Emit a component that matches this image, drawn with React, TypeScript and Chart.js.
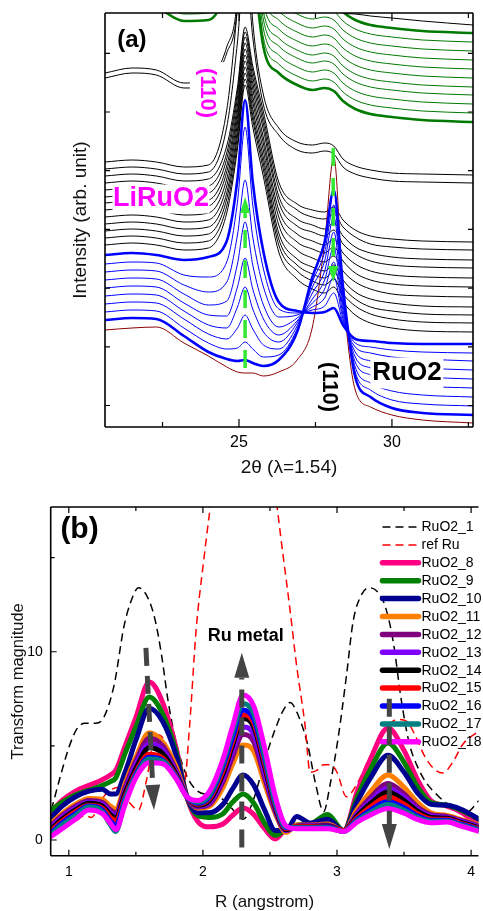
import React, { useEffect, useRef } from "react";
import { Chart, registerables } from "chart.js";

Chart.register(...registerables);

const FONT = "'Liberation Sans', Arial, Helvetica, sans-serif";

// ================= Panel (a): XRD patterns =================
const twoTheta = [20.62, 21.5, 22.3, 23.2, 24.0, 24.6, 24.95, 25.2, 25.45, 25.8, 26.3, 26.9, 27.4, 27.8, 28.1, 28.4, 28.8, 29.3, 30.0, 31.0, 32.65];

const brownCurve = [97, 99, 100, 84, 71, 60, 55, 54, 54, 51, 55, 67, 100, 185, 270, 135, 37, 20, 12, 7, 4];

const blue1 = [107, 109, 108, 91, 75, 68, 66, 67, 64, 61, 67, 95, 150, 185, 237, 140, 50, 30, 19, 14, 12];
const blue2 = [115, 117, 116, 99, 84, 78, 79, 85, 78, 70, 72, 98, 145, 175, 222, 133, 55, 37, 27, 23, 21];
const blue3 = [123, 125, 124, 108, 93, 88, 99, 112, 98, 82, 78, 101, 140, 166, 210, 127, 60, 44, 36, 32, 30];
const blue4 = [131, 133, 132, 116, 102, 99, 120, 140, 118, 95, 85, 104, 134, 156, 195, 122, 65, 52, 45, 41, 39];
const blue5 = [139, 141, 140, 124, 112, 111, 140, 169, 138, 108, 92, 106, 128, 147, 180, 117, 70, 59, 53, 50, 48];
const blue6 = [147, 149, 148, 133, 122, 126, 163, 205, 162, 122, 100, 109, 124, 138, 165, 112, 75, 66, 62, 59, 57];
const blue7 = [155, 157, 156, 142, 135, 145, 192, 247, 190, 140, 110, 112, 120, 129, 150, 108, 80, 74, 70, 68, 66];
const blue8 = [163, 165, 164, 152, 150, 165, 225, 300, 222, 158, 118, 114, 117, 121, 134, 105, 84, 80, 77, 75, 74];
const blue9 = [172, 174, 172, 167, 170, 186, 248, 327, 245, 175, 125, 116, 114, 115, 119, 102, 88, 86, 84, 83, 83];

const black1 = [182, 184, 182, 177, 179, 214, 278, 342, 300, 250, 175, 148, 138, 134, 140, 125, 112, 104, 99, 96, 95];
const black2 = [189, 191, 189, 184, 186, 221, 284, 348, 307, 257, 182, 156, 146, 142, 148, 133, 121, 113, 108, 105, 104];
const black3 = [196, 198, 196, 191, 193, 228, 291, 354, 312, 263, 188, 162, 153, 149, 155, 140, 128, 120, 116, 113, 112];
const black4 = [203, 205, 203, 198, 200, 234, 297, 360, 318, 269, 194, 168, 160, 156, 162, 147, 135, 128, 124, 121, 120];
const black5 = [210, 212, 210, 205, 207, 241, 304, 366, 325, 276, 202, 177, 169, 165, 171, 156, 145, 138, 133, 131, 130];
const black6 = [217, 219, 217, 212, 214, 248, 310, 372, 331, 283, 210, 185, 178, 174, 180, 166, 154, 147, 143, 141, 140];
const black7 = [224, 226, 224, 219, 221, 255, 316, 378, 338, 289, 217, 193, 186, 182, 188, 174, 163, 156, 152, 150, 149];
const black8 = [230, 232, 230, 225, 227, 261, 322, 384, 344, 297, 225, 201, 195, 191, 197, 183, 173, 166, 162, 160, 159];
const black9 = [237, 239, 237, 232, 234, 268, 329, 390, 350, 303, 231, 208, 202, 198, 204, 191, 180, 174, 170, 168, 167];
const black10 = [244, 246, 244, 239, 241, 274, 335, 395, 356, 309, 239, 217, 210, 208, 213, 200, 190, 183, 180, 178, 177];
const black11 = [251, 253, 251, 246, 248, 281, 340, 400, 361, 315, 245, 223, 217, 215, 220, 207, 197, 191, 188, 186, 185];
const black12 = [258, 260, 258, 253, 255, 300, 385, 470, 390, 322, 292, 277, 274, 276, 273, 260, 253, 249, 246, 245, 244];
const black13 = [265, 267, 265, 260, 262, 317, 420, 520, 405, 332, 299, 285, 282, 284, 281, 268, 261, 257, 254, 253, 252];

const upper1 = [349, 354, 352, 339, 342, 374, 420, 560, 480, 440, 425, 420, 425, 425, 420, 414, 413, 411, 409, 406, 402];
const upper2 = [354, 359, 357, 344, 347, 380, 430, 580, 495, 455, 440, 432, 433, 433, 428, 423, 422, 421, 420, 418, 416];

const green1 = [430, 428, 420, 406, 407, 440, 500, 600, 480, 380, 354, 342, 337, 339, 336, 326, 318, 313, 310, 307, 305];
const green2 = [437, 435, 427, 413, 414, 447, 507, 607, 489, 389, 363, 351, 346, 348, 345, 335, 327, 322, 319, 316, 314];
const green3 = [444, 442, 434, 420, 421, 454, 514, 614, 498, 398, 372, 360, 355, 357, 354, 344, 336, 331, 328, 325, 323];
const green4 = [451, 449, 441, 427, 428, 461, 521, 621, 507, 407, 381, 369, 364, 366, 363, 353, 345, 340, 337, 334, 332];
const green5 = [458, 456, 448, 434, 435, 468, 528, 628, 515, 415, 389, 377, 372, 374, 371, 361, 353, 348, 345, 342, 340];
const green6 = [465, 463, 455, 441, 442, 475, 535, 635, 524, 424, 398, 386, 381, 383, 380, 370, 362, 357, 354, 351, 349];
const green7 = [472, 470, 462, 448, 449, 482, 542, 642, 533, 433, 407, 395, 390, 392, 389, 379, 371, 366, 363, 360, 358];
const green8 = [479, 477, 469, 455, 456, 489, 549, 649, 542, 442, 416, 404, 399, 401, 398, 388, 380, 375, 372, 369, 367];
const green9 = [486, 484, 476, 462, 463, 496, 556, 656, 551, 451, 425, 413, 408, 410, 407, 397, 389, 384, 381, 378, 376];
const green10 = [493, 491, 483, 469, 470, 503, 563, 663, 560, 460, 434, 422, 417, 419, 416, 406, 398, 393, 390, 387, 385];
const green11 = [500, 498, 490, 476, 477, 510, 570, 670, 569, 469, 443, 431, 426, 428, 425, 415, 407, 402, 399, 396, 394];

const blueCurves = [blue1, blue2, blue3, blue4, blue5, blue6, blue7, blue8, blue9];
const blackCurves = [black1, black2, black3, black4, black5, black6, black7, black8, black9, black10, black11, black12, black13];
const upperCurves = [upper1, upper2];
const greenCurves = [green1, green2, green3, green4, green5, green6, green7, green8, green9, green10, green11];

const xTicksA = [22.5, 25, 27.5, 30, 32.5];
const xLabelsA = [25, 30];
const yTicksA = [21.5, 80.2, 138.9, 197.6, 256.3, 315, 373.7];

// ================= Panel (b): Fourier transform magnitude =================
const rGrid = [0.87, 0.95, 1.05, 1.15, 1.25, 1.31, 1.35, 1.42, 1.5, 1.6, 1.7, 1.8, 1.88, 1.96, 2.05, 2.15, 2.22, 2.3, 2.38, 2.46, 2.54, 2.62, 2.7, 2.8, 2.93, 3.05, 3.15, 3.25, 3.38, 3.5, 3.6, 3.7, 3.82, 3.92, 4.06];

const ruo2_8 = [1.5, 2.1, 2.6, 2.9, 3.2, 3.45, 3.7, 5.0, 6.5, 8.4, 7.3, 4.9, 2.3, 1.0, 0.7, 0.85, 1.3, 1.7, 1.35, 0.6, 0.05, 0.6, 0.75, 0.75, 0.9, 0.5, 2.57, 4.3, 5.95, 4.75, 3.2, 2.1, 1.8, 1.5, 0.8];
const ruo2_9 = [1.6, 2.0, 2.4, 2.65, 2.9, 3.1, 3.3, 4.6, 6.0, 7.6, 6.7, 4.7, 2.3, 1.3, 1.2, 1.4, 2.0, 2.45, 1.95, 0.9, 0.25, 0.6, 0.8, 0.85, 1.35, 0.5, 2.27, 3.76, 5.15, 4.13, 2.83, 2.0, 1.85, 1.6, 1.1];
const ruo2_10 = [1.2, 1.8, 2.3, 2.6, 2.7, 2.45, 2.45, 3.6, 5.3, 7.0, 6.3, 4.5, 2.3, 1.45, 1.45, 1.9, 2.7, 3.45, 2.9, 1.6, 0.5, 0.5, 1.25, 0.9, 1.1, 0.5, 2.02, 3.3, 4.5, 3.6, 2.5, 1.9, 1.85, 1.65, 1.1];
const ruo2_11 = [0.9, 1.4, 1.9, 2.2, 2.15, 1.8, 1.65, 3.0, 4.4, 5.7, 5.2, 3.9, 2.3, 1.7, 1.8, 2.8, 4.0, 5.05, 4.7, 3.0, 1.4, 0.4, 0.8, 0.8, 0.85, 0.5, 1.62, 2.57, 3.45, 2.8, 2.0, 1.45, 1.3, 1.1, 0.8];
const ruo2_12 = [0.8, 1.3, 1.8, 2.1, 2.0, 1.6, 1.45, 2.8, 4.2, 5.4, 5.0, 3.7, 2.3, 1.75, 1.9, 3.1, 4.4, 5.6, 5.2, 3.3, 1.5, 0.5, 0.75, 0.8, 0.8, 0.5, 1.45, 2.25, 3.0, 2.45, 1.75, 1.35, 1.25, 1.05, 0.75];
const ruo2_13 = [0.7, 1.2, 1.7, 2.0, 1.9, 1.45, 1.3, 2.6, 4.0, 5.1, 4.8, 3.6, 2.3, 1.8, 2.0, 3.3, 4.7, 6.0, 5.6, 3.6, 1.6, 0.5, 0.7, 0.75, 0.75, 0.5, 1.36, 2.08, 2.75, 2.26, 1.63, 1.28, 1.2, 1.0, 0.7];
const ruo2_14 = [0.6, 1.1, 1.6, 1.95, 1.8, 1.35, 1.2, 2.5, 3.8, 4.9, 4.6, 3.5, 2.3, 1.85, 2.1, 3.5, 5.0, 6.45, 6.0, 3.9, 1.7, 0.55, 0.7, 0.7, 0.75, 0.5, 1.28, 1.94, 2.55, 2.1, 1.53, 1.2, 1.15, 0.95, 0.65];
const ruo2_15 = [0.5, 1.0, 1.5, 1.85, 1.7, 1.2, 1.05, 2.3, 3.6, 4.55, 4.35, 3.4, 2.3, 1.9, 2.2, 3.7, 5.2, 6.65, 6.2, 4.1, 1.8, 0.6, 0.7, 0.7, 0.7, 0.5, 1.18, 1.76, 2.3, 1.9, 1.4, 1.12, 1.1, 0.9, 0.6];
const ruo2_16 = [0.4, 0.9, 1.4, 1.8, 1.6, 1.0, 0.8, 2.2, 3.5, 4.4, 4.25, 3.35, 2.3, 1.95, 2.3, 3.9, 5.4, 6.9, 6.4, 4.3, 1.9, 0.65, 0.65, 0.65, 0.7, 0.45, 1.09, 1.59, 2.05, 1.71, 1.28, 1.05, 1.05, 0.85, 0.55];
const ruo2_17 = [0.3, 0.8, 1.3, 1.75, 1.5, 0.8, 0.45, 2.1, 3.4, 4.3, 4.2, 3.3, 2.3, 2.0, 2.4, 4.1, 5.7, 7.25, 6.7, 4.5, 2.0, 0.7, 0.65, 0.65, 0.65, 0.45, 1.02, 1.47, 1.88, 1.58, 1.19, 1.0, 1.0, 0.8, 0.5];
const ruo2_18 = [0.2, 0.6, 1.1, 1.6, 1.4, 0.9, 0.55, 1.9, 3.3, 4.1, 4.05, 3.25, 2.3, 2.1, 2.6, 4.3, 6.0, 7.7, 7.1, 4.9, 2.3, 0.75, 0.6, 0.6, 0.6, 0.45, 0.95, 1.33, 1.68, 1.42, 1.09, 0.92, 0.95, 0.75, 0.45];

const ruo2_1R = [0.87, 0.93, 1.0, 1.06, 1.12, 1.2, 1.26, 1.34, 1.41, 1.46, 1.52, 1.58, 1.64, 1.69, 1.74, 1.8, 1.88, 1.96, 2.05, 2.12, 2.2, 2.3, 2.38, 2.46, 2.54, 2.6, 2.65, 2.7, 2.78, 2.84, 2.9, 2.95, 3.01, 3.07, 3.12, 3.18, 3.24, 3.3, 3.36, 3.42, 3.48, 3.54, 3.6, 3.66, 3.76, 3.86, 3.96, 4.06];
const ruo2_1 = [1.6, 3.2, 4.9, 5.9, 6.2, 6.2, 6.5, 8.3, 11.3, 12.6, 13.4, 13.0, 11.8, 9.9, 7.4, 5.2, 3.4, 2.6, 2.4, 2.3, 1.8, 1.1, 2.2, 4.2, 5.9, 6.9, 7.3, 6.8, 5.1, 3.0, 1.5, 3.0, 5.5, 8.7, 11.6, 13.0, 13.4, 13.2, 12.4, 10.5, 7.4, 5.1, 3.9, 3.1, 2.3, 1.75, 1.45, 2.1];

const refRuR = [0.87, 0.95, 1.05, 1.12, 1.17, 1.24, 1.3, 1.38, 1.45, 1.52, 1.58, 1.65, 1.72, 1.8, 1.86, 1.9, 1.95, 2.0, 2.1, 2.2, 2.3, 2.4, 2.5, 2.6, 2.65, 2.7, 2.76, 2.8, 2.85, 2.9, 2.95, 3.0, 3.07, 3.15, 3.25, 3.35, 3.45, 3.52, 3.58, 3.65, 3.72, 3.79, 3.86, 3.94, 4.06];
const refRu = [1.0, 0.9, 1.0, 1.3, 1.2, 2.1, 2.6, 2.8, 2.0, 1.6, 3.2, 5.6, 5.2, 3.2, 3.0, 6.0, 11.2, 14.5, 20, 24, 25, 24, 20.5, 15, 12.2, 9.2, 6.2, 3.6, 3.7, 4.0, 4.0, 3.6, 2.3, 3.0, 4.5, 5.8, 6.4, 6.3, 5.6, 4.5, 3.8, 3.56, 4.1, 5.1, 5.8];

const xTicksB = [1, 1.5, 2, 2.5, 3, 3.5, 4];
const xLabelsB = [1, 2, 3, 4];
const yTicksB = [0, 5, 10, 15];
const yLabelsB = [0, 10];

// ================= drawing helpers =================
function drawArrow(ctx: CanvasRenderingContext2D, x0: number, y0: number, x1: number, y1: number, s: any) {
  const ang = Math.atan2(y1 - y0, x1 - x0);
  const bx = x1 - s.headLen * Math.cos(ang);
  const by = y1 - s.headLen * Math.sin(ang);
  ctx.save();
  ctx.strokeStyle = s.color;
  ctx.lineWidth = s.width;
  ctx.setLineDash(s.dash);
  ctx.lineCap = "butt";
  ctx.beginPath();
  ctx.moveTo(x0, y0);
  ctx.lineTo(bx, by);
  ctx.stroke();
  ctx.setLineDash([]);
  ctx.fillStyle = s.color;
  const hw = s.headW / 2;
  ctx.beginPath();
  ctx.moveTo(x1, y1);
  ctx.lineTo(bx + hw * Math.sin(ang), by - hw * Math.cos(ang));
  ctx.lineTo(bx - hw * Math.sin(ang), by + hw * Math.cos(ang));
  ctx.closePath();
  ctx.fill();
  ctx.restore();
}

function drawLabel(ctx: CanvasRenderingContext2D, x: number, y: number, l: any) {
  ctx.save();
  if (l.box) {
    ctx.fillStyle = "#fff";
    ctx.fillRect(x - l.box[0] / 2, y - l.box[1] / 2, l.box[0], l.box[1]);
  }
  ctx.translate(x, y);
  if (l.rotate) ctx.rotate(l.rotate);
  ctx.font = l.font;
  ctx.fillStyle = l.color;
  ctx.textAlign = "center";
  ctx.textBaseline = "middle";
  ctx.fillText(l.text, 0, 0);
  ctx.restore();
}

function framePlugin(cfg: any) {
  return {
    id: "frame_" + cfg.name,
    afterDatasetsDraw(chart: any) {
      const { ctx, chartArea: a } = chart;
      const xs = chart.scales.x;
      const ys = chart.scales.y;
      ctx.save();
      ctx.strokeStyle = "#000";
      ctx.lineWidth = cfg.lineWidth;
      ctx.setLineDash([]);
      ctx.beginPath();
      if (cfg.top) { ctx.moveTo(a.left, a.top); ctx.lineTo(a.right, a.top); }
      ctx.moveTo(a.left, a.bottom); ctx.lineTo(a.right, a.bottom);
      ctx.moveTo(a.left, a.top); ctx.lineTo(a.left, a.bottom);
      if (cfg.right) { ctx.moveTo(a.right, a.top); ctx.lineTo(a.right, a.bottom); }
      ctx.stroke();
      ctx.lineWidth = 1.2;
      ctx.beginPath();
      cfg.xTicks.forEach((v: number) => {
        const px = xs.getPixelForValue(v);
        if (px < a.left - 0.5 || px > a.right + 0.5) return;
        const len = cfg.xMajor.includes(v) ? cfg.majorLen : cfg.minorLen;
        ctx.moveTo(px, a.bottom); ctx.lineTo(px, a.bottom - len);
        if (cfg.top) { ctx.moveTo(px, a.top); ctx.lineTo(px, a.top + len); }
      });
      cfg.yTicks.forEach((v: number) => {
        const py = ys.getPixelForValue(v);
        const len = cfg.yMajor.includes(v) ? cfg.majorLen : cfg.minorLen;
        ctx.moveTo(a.left, py); ctx.lineTo(a.left + len, py);
        if (cfg.right) { ctx.moveTo(a.right, py); ctx.lineTo(a.right - len, py); }
      });
      ctx.stroke();
      ctx.restore();
    },
  };
}

// ================= Panel (a) config =================
const labelsA = [
  { text: "(a)", x: 21.5, y: 387, font: `bold 24px ${FONT}`, color: "#000" },
  { text: "(110)", x: 23.95, y: 334, font: `bold 22px ${FONT}`, color: "#FF00FF", rotate: Math.PI / 2, box: [34, 62] },
  { text: "LiRuO2", x: 22.45, y: 228, font: `bold 27px ${FONT}`, color: "#FF00FF", box: [97, 29] },
  { text: "(110)", x: 27.94, y: 40, font: `bold 22px ${FONT}`, color: "#000", rotate: Math.PI / 2, box: [24, 52] },
  { text: "RuO2", x: 30.49, y: 54, font: `bold 26px ${FONT}`, color: "#000", box: [73, 31] },
];
const arrowsA = [
  { from: [25.2, 59], to: [25.2, 230] },
  { from: [28.08, 279], to: [28.08, 145] },
];
const arrowStyleA = { color: "#33E833", width: 3.5, dash: [18, 12], headLen: 16, headW: 10 };

function toXY(xs: number[], ys: number[]) {
  return xs.map((x, i) => ({ x, y: ys[i] }));
}

function makeConfigA(): any {
  const datasets: any[] = [];
  blueCurves.forEach((c, i) => {
    const thick = i === 0 || i === blueCurves.length - 1;
    datasets.push({ label: "blue" + (i + 1), data: toXY(twoTheta, c), borderColor: "#0000FF", borderWidth: thick ? 2.6 : 1 });
  });
  datasets.push({ label: "brown", data: toXY(twoTheta, brownCurve), borderColor: "#8B0000", borderWidth: 1 });
  blackCurves.forEach((c, i) => datasets.push({ label: "black" + (i + 1), data: toXY(twoTheta, c), borderColor: "#000", borderWidth: 1 }));
  upperCurves.forEach((c, i) => datasets.push({ label: "upper" + (i + 1), data: toXY(twoTheta, c), borderColor: "#000", borderWidth: 1 }));
  greenCurves.forEach((c, i) => {
    const thick = i === 0 || i === greenCurves.length - 1;
    datasets.push({ label: "green" + (i + 1), data: toXY(twoTheta, c), borderColor: "#007A00", borderWidth: thick ? 2.6 : 1 });
  });
  datasets.forEach((d) => {
    d.pointRadius = 0;
    d.fill = false;
    d.cubicInterpolationMode = "monotone";
  });

  const annot = {
    id: "annotA",
    afterDatasetsDraw(chart: any) {
      const { ctx } = chart;
      const xs = chart.scales.x;
      const ys = chart.scales.y;
      arrowsA.forEach((a) =>
        drawArrow(ctx, xs.getPixelForValue(a.from[0]), ys.getPixelForValue(a.from[1]), xs.getPixelForValue(a.to[0]), ys.getPixelForValue(a.to[1]), arrowStyleA)
      );
      labelsA.forEach((l) => drawLabel(ctx, xs.getPixelForValue(l.x), ys.getPixelForValue(l.y), l));
    },
  };

  return {
    type: "line",
    data: { datasets },
    options: {
      responsive: false,
      maintainAspectRatio: false,
      animation: false,
      events: [],
      layout: { padding: { left: 0, top: 13, right: 10, bottom: 0 } },
      plugins: { legend: { display: false }, tooltip: { enabled: false } },
      scales: {
        x: {
          type: "linear",
          min: 20.62,
          max: 32.65,
          grid: { display: false, drawTicks: false },
          border: { display: false },
          afterBuildTicks: (s: any) => { s.ticks = xLabelsA.map((v) => ({ value: v })); },
          ticks: { padding: 6, autoSkip: false, maxRotation: 0, color: "#000", font: { family: FONT, size: 16 } },
          title: { display: true, text: "2θ (λ=1.54)", color: "#111", font: { family: FONT, size: 19 }, padding: { top: 0, bottom: 11 } },
          afterFit: (s: any) => { s.height = 63; },
        },
        y: {
          type: "linear",
          min: 0,
          max: 414,
          grid: { display: false, drawTicks: false },
          border: { display: false },
          ticks: { display: false },
          title: { display: true, text: "Intensity (arb. unit)", color: "#111", font: { family: FONT, size: 19 }, padding: { top: 69, bottom: 0 } },
          afterFit: (s: any) => { s.width = 105; },
        },
      },
    },
    plugins: [
      framePlugin({ name: "a", lineWidth: 1.6, top: true, right: true, xTicks: xTicksA, xMajor: xLabelsA, yTicks: yTicksA, yMajor: [], majorLen: 8, minorLen: 5 }),
      annot,
    ],
  };
}

// ================= Panel (b) config =================
const seriesB = [
  { label: "RuO2_8", values: ruo2_8, color: "#FF0080" },
  { label: "RuO2_9", values: ruo2_9, color: "#008000" },
  { label: "RuO2_10", values: ruo2_10, color: "#000090" },
  { label: "RuO2_11", values: ruo2_11, color: "#FF8000" },
  { label: "RuO2_12", values: ruo2_12, color: "#800080" },
  { label: "RuO2_13", values: ruo2_13, color: "#8000FF" },
  { label: "RuO2_14", values: ruo2_14, color: "#000000" },
  { label: "RuO2_15", values: ruo2_15, color: "#FF0000" },
  { label: "RuO2_16", values: ruo2_16, color: "#0000FF" },
  { label: "RuO2_17", values: ruo2_17, color: "#008080" },
  { label: "RuO2_18", values: ruo2_18, color: "#FF00FF" },
];
const labelsB = [
  { text: "(b)", x: 1.08, y: 16.5, font: `bold 30px ${FONT}`, color: "#000" },
  { text: "Ru metal", x: 2.32, y: 10.83, font: `bold 18px ${FONT}`, color: "#000" },
];
const arrowsB = [
  { from: [1.575, 10.2], to: [1.635, 1.6] },
  { from: [2.29, -0.4], to: [2.29, 9.95] },
  { from: [3.39, 7.5], to: [3.39, -0.48] },
];
const arrowStyleB = { color: "#444444", width: 5, dash: [18, 10], headLen: 25, headW: 15 };

function makeConfigB(): any {
  const datasets: any[] = [
    { label: "RuO2_1", data: toXY(ruo2_1R, ruo2_1), borderColor: "#000", borderWidth: 1.5, borderDash: [8, 5], order: 20 },
    { label: "ref Ru", data: toXY(refRuR, refRu), borderColor: "#FF0000", borderWidth: 1.5, borderDash: [8, 5], order: 19 },
  ];
  seriesB.forEach((s, i) =>
    datasets.push({ label: s.label, data: toXY(rGrid, s.values), borderColor: s.color, borderWidth: 5, order: seriesB.length - i, borderJoinStyle: "round", borderCapStyle: "round" })
  );
  datasets.forEach((d) => {
    d.pointRadius = 0;
    d.fill = false;
    d.cubicInterpolationMode = "monotone";
  });

  const legendB = {
    id: "legendB",
    afterDatasetsDraw(chart: any) {
      const { ctx, chartArea: a } = chart;
      const x0 = a.right - 96;
      const y0 = a.top + 20;
      const step = 17.9;
      ctx.save();
      chart.data.datasets.forEach((ds: any, i: number) => {
        const y = y0 + i * step;
        ctx.strokeStyle = ds.borderColor;
        ctx.lineWidth = ds.borderDash ? ds.borderWidth : 5.5;
        ctx.setLineDash(ds.borderDash || []);
        ctx.lineCap = ds.borderDash ? "butt" : "round";
        ctx.beginPath();
        ctx.moveTo(x0, y);
        ctx.lineTo(x0 + 36, y);
        ctx.stroke();
        ctx.setLineDash([]);
        ctx.fillStyle = "#000";
        ctx.font = `14px ${FONT}`;
        ctx.textAlign = "left";
        ctx.textBaseline = "middle";
        ctx.fillText(ds.label, x0 + 39, y + 0.5);
      });
      ctx.restore();
    },
  };

  const annot = {
    id: "annotB",
    afterDatasetsDraw(chart: any) {
      const { ctx } = chart;
      const xs = chart.scales.x;
      const ys = chart.scales.y;
      arrowsB.forEach((a) =>
        drawArrow(ctx, xs.getPixelForValue(a.from[0]), ys.getPixelForValue(a.from[1]), xs.getPixelForValue(a.to[0]), ys.getPixelForValue(a.to[1]), arrowStyleB)
      );
      labelsB.forEach((l) => drawLabel(ctx, xs.getPixelForValue(l.x), ys.getPixelForValue(l.y), l));
    },
  };

  return {
    type: "line",
    data: { datasets },
    options: {
      responsive: false,
      maintainAspectRatio: false,
      animation: false,
      events: [],
      layout: { padding: { left: 0, top: 17, right: 0, bottom: 0 } },
      plugins: { legend: { display: false }, tooltip: { enabled: false } },
      scales: {
        x: {
          type: "linear",
          min: 0.865,
          max: 4.055,
          grid: { display: false, drawTicks: false },
          border: { display: false },
          afterBuildTicks: (s: any) => { s.ticks = xLabelsB.map((v) => ({ value: v })); },
          ticks: { padding: 8, autoSkip: false, maxRotation: 0, color: "#000", font: { family: FONT, size: 14 } },
          title: { display: true, text: "R (angstrom)", color: "#111", font: { family: FONT, size: 17 }, padding: { top: 0, bottom: -2 } },
          afterFit: (s: any) => { s.height = 55.3; },
        },
        y: {
          type: "linear",
          min: -0.834,
          max: 17.69,
          grid: { display: false, drawTicks: false },
          border: { display: false },
          afterBuildTicks: (s: any) => { s.ticks = yLabelsB.map((v) => ({ value: v })); },
          ticks: { padding: 8, color: "#000", font: { family: FONT, size: 14 } },
          title: { display: true, text: "Transform magnitude", color: "#111", font: { family: FONT, size: 16.5 }, padding: { top: 9, bottom: 0 } },
          afterFit: (s: any) => { s.width = 50.7; },
        },
      },
    },
    plugins: [
      framePlugin({ name: "b", lineWidth: 1.6, top: true, right: false, xTicks: xTicksB, xMajor: xLabelsB, yTicks: yTicksB, yMajor: yLabelsB, majorLen: 6, minorLen: 4 }),
      legendB,
      annot,
    ],
  };
}

function ChartCanvas({ makeConfig, width, height, top }: { makeConfig: () => any; width: number; height: number; top: number }) {
  const ref = useRef<HTMLCanvasElement>(null);
  useEffect(() => {
    const chart = new Chart(ref.current as HTMLCanvasElement, makeConfig());
    return () => chart.destroy();
  }, []);
  return <canvas ref={ref} width={width} height={height} style={{ position: "absolute", left: 0, top, width, height }} />;
}

export default function App() {
  return (
    <div style={{ position: "absolute", left: 0, top: 0, width: 483, height: 911, background: "#fff", overflow: "hidden" }}>
      <ChartCanvas makeConfig={makeConfigA} width={483} height={490} top={0} />
      <ChartCanvas makeConfig={makeConfigB} width={483} height={421} top={490} />
    </div>
  );
}
